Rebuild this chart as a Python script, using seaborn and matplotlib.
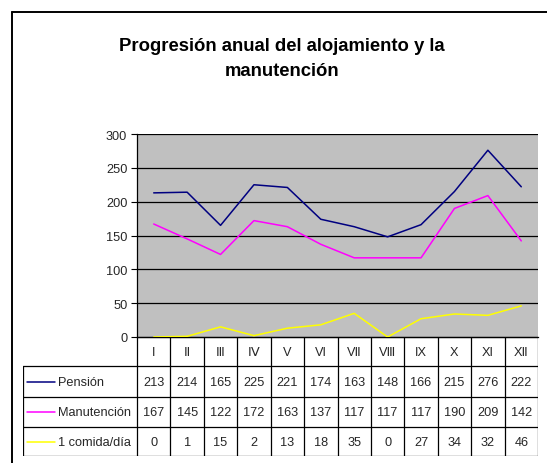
import matplotlib
matplotlib.use("Agg")
import matplotlib.pyplot as plt
from matplotlib.lines import Line2D
import seaborn as sns
import pandas as pd
import numpy as np

months = ["I", "Ⅱ", "Ⅲ", "Ⅳ", "V", "VI", "VⅡ", "VⅢ", "IX", "X", "XI", "XⅡ"]
series_names = ["Pensión", "Manutención", "1 comida/día"]
pension = [213, 214, 165, 225, 221, 174, 163, 148, 166, 215, 276, 222]
manutencion = [167, 145, 122, 172, 163, 137, 117, 117, 117, 190, 209, 142]
comida = [0, 1, 15, 2, 13, 18, 35, 0, 27, 34, 32, 46]
colors = ["#000080", "#FF00FF", "#FFFF00"]
yticks = [0, 50, 100, 150, 200, 250, 300]
title = "Progresión anual del alojamiento y la\nmanutención"

sns.set_theme(style="white")
plt.rcParams["font.family"] = ["Liberation Sans", "DejaVu Sans"]

W, H = 547, 464
fig = plt.figure(figsize=(W / 100, H / 100), dpi=100)

def fx(px):
    return px / W

def fy(py):
    return 1 - py / H

# outer frame (top and left edges visible; the rest is cut by the image)
fig.lines.append(Line2D([fx(12), fx(12)], [fy(13), fy(470)], transform=fig.transFigure,
                        color="black", linewidth=1.4))
fig.lines.append(Line2D([fx(12), fx(560)], [fy(13), fy(13)], transform=fig.transFigure,
                        color="black", linewidth=1.4))

fig.text(fx(282), fy(59), title, ha="center", va="center", fontsize=13.3,
         fontweight="bold", linespacing=1.55, color="black")

# main plot area
pl, pr, pt, pb = 137, 538, 135, 338
ax = fig.add_axes([fx(pl), fy(pb), fx(pr) - fx(pl), fy(pt) - fy(pb)])
ax.set_facecolor("#C0C0C0")

x = np.arange(len(months))
df = pd.DataFrame({
    "x": np.tile(x, 3),
    "valor": pension + manutencion + comida,
    "serie": np.repeat(series_names, len(months)),
})
for yv in yticks:
    ax.axhline(yv, color="black", linewidth=0.9, zorder=1)
sns.lineplot(data=df, x="x", y="valor", hue="serie", palette=colors, hue_order=series_names,
             linewidth=1.1, ax=ax, legend=False, zorder=3)
ax.set_xlim(-0.5, len(months) - 0.5)
ax.set_ylim(0, 300)
ax.set_yticks(yticks)
ax.set_yticklabels([str(v) for v in yticks], fontsize=9.2)
ax.set_xticks([])
ax.set_xlabel("")
ax.set_ylabel("")
ax.tick_params(axis="y", length=4, width=0.8, color="black", pad=3, left=True)
for s in ["top", "right"]:
    ax.spines[s].set_visible(False)
ax.spines["left"].set_color("black")
ax.spines["bottom"].set_color("black")
ax.spines["left"].set_linewidth(0.9)
ax.spines["bottom"].set_linewidth(0.9)

# table axes
tl, tb = 23, 457
colw = (pr - pl) / len(months)
tax = fig.add_axes([fx(tl), fy(tb), fx(pr) - fx(tl), fy(pb) - fy(tb)])
tax.set_xlim(-0.5 - (pl - tl) / colw, len(months) - 0.5)
tax.set_ylim(tb, pb)
tax.axis("off")
rows = [pb, 367, 398, 428, tb]
left_edge = -0.5 - (pl - tl) / colw
lc = "black"
lw = 0.9
tax.plot([-0.5, len(months) - 0.5], [rows[0], rows[0]], color=lc, lw=lw)
for r in rows[1:]:
    tax.plot([left_edge, len(months) - 0.5], [r, r], color=lc, lw=lw)
for i in range(len(months) + 1):
    tax.plot([i - 0.5, i - 0.5], [rows[0], rows[-1]], color=lc, lw=lw)
tax.plot([left_edge, left_edge], [rows[1], rows[-1]], color=lc, lw=lw)

fs = 9.2
for i, m in enumerate(months):
    tax.text(i, (rows[0] + rows[1]) / 2, m, ha="center", va="center", fontsize=fs)
all_vals = [pension, manutencion, comida]
for k, (name, vals, c) in enumerate(zip(series_names, all_vals, colors)):
    yc = (rows[k + 1] + rows[k + 2]) / 2
    for i, v in enumerate(vals):
        tax.text(i, yc, str(v), ha="center", va="center", fontsize=fs)
    x0 = left_edge + 4 / colw
    x1 = left_edge + 32 / colw
    tax.plot([x0, x1], [yc, yc], color=c, lw=1.1)
    tax.text(left_edge + 35 / colw, yc, name, ha="left", va="center", fontsize=fs)

fig.savefig("out.png", dpi=100)
